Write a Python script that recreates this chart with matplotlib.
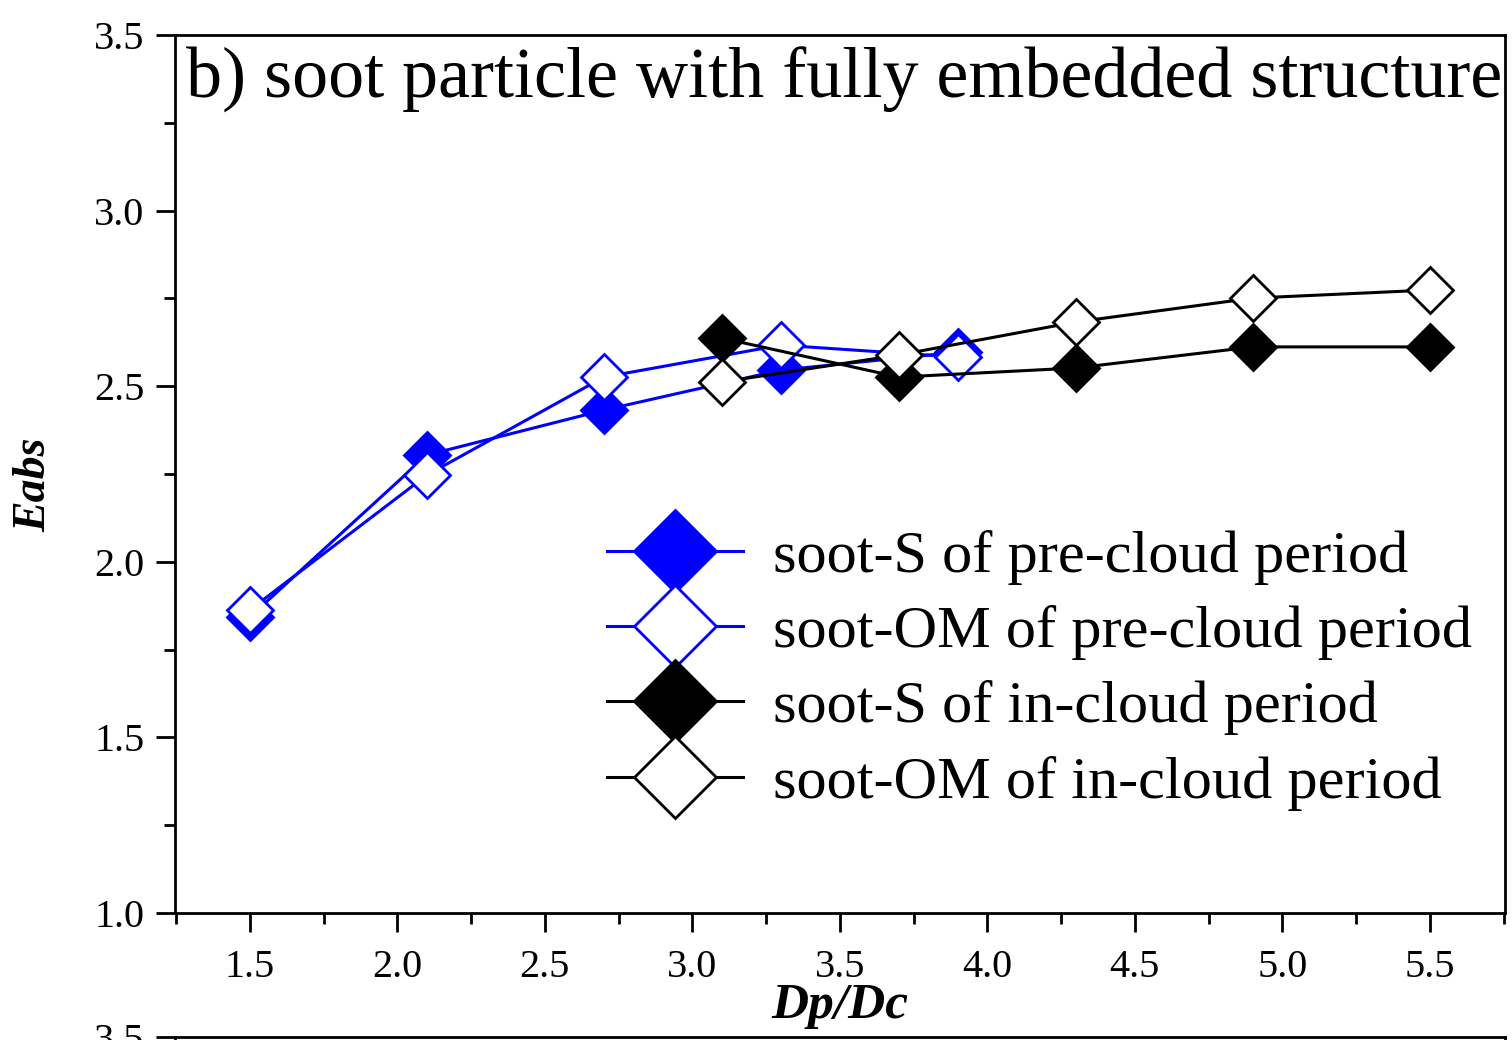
import numpy as np
import matplotlib
matplotlib.use("Agg")
import matplotlib.pyplot as plt
from matplotlib.ticker import MultipleLocator

plt.rcParams['font.family'] = ['Liberation Serif', 'DejaVu Serif']

# pre-cloud period
x_pre = [1.5, 2.1, 2.7, 3.3, 3.9]
s_pre = [1.843, 2.304, 2.432, 2.546, 2.597]
om_pre = [1.863, 2.247, 2.526, 2.617, 2.583]

# in-cloud period
x_in = [3.1, 3.7, 4.3, 4.9, 5.5]
s_in = [2.637, 2.526, 2.552, 2.612, 2.612]
om_in = [2.512, 2.589, 2.683, 2.751, 2.774]

labels = ['soot-S of pre-cloud period', 'soot-OM of pre-cloud period',
          'soot-S of in-cloud period', 'soot-OM of in-cloud period']

fig = plt.figure(figsize=(15.12, 10.4), dpi=100)
ax = fig.add_axes([0.1157, 0.1221, 0.8796, 0.8442])

ms = 23
lw = 2.2
mew = 2.0
ax.plot(x_pre, s_pre, color='blue', lw=lw, marker='D', ms=ms, mfc='blue', mec='blue', mew=mew, label=labels[0])
ax.plot(x_pre, om_pre, color='blue', lw=lw, marker='D', ms=ms, mfc='white', mec='blue', mew=mew, label=labels[1])
ax.plot(x_in, s_in, color='black', lw=lw, marker='D', ms=ms, mfc='black', mec='black', mew=mew, label=labels[2])
ax.plot(x_in, om_in, color='black', lw=lw, marker='D', ms=ms, mfc='white', mec='black', mew=mew, label=labels[3])

ax.set_xlim(1.246, 5.754)
ax.set_ylim(1.0, 3.5)
ax.xaxis.set_major_locator(MultipleLocator(0.5))
ax.xaxis.set_minor_locator(MultipleLocator(0.25))
ax.yaxis.set_major_locator(MultipleLocator(0.5))
ax.yaxis.set_minor_locator(MultipleLocator(0.25))
ax.set_xticks([1.5, 2.0, 2.5, 3.0, 3.5, 4.0, 4.5, 5.0, 5.5])
ax.tick_params(which='both', direction='out', top=False, right=False, width=2)
ax.tick_params(which='major', length=14, labelsize=29)
ax.tick_params(axis='x', which='major', pad=12)
ax.tick_params(axis='y', which='major', pad=8)
ax.tick_params(which='minor', length=8)
for sp in ax.spines.values():
    sp.set_linewidth(2)

ax.set_xlabel('Dp/Dc', fontsize=37, fontweight='bold', style='italic', labelpad=-2)
ax.set_ylabel('Eabs', fontsize=33, fontweight='bold', style='italic')
ax.yaxis.set_label_coords(-0.09, 0.4875)

ax.text(0.008, 0.986, 'b) soot particle with fully embedded structure', transform=ax.transAxes,
        fontsize=51.8, va='top', ha='left')

leg = ax.legend(loc='upper left', bbox_to_anchor=(0.302, 0.471), frameon=False, fontsize=43.5,
                markerscale=1.8, handlelength=2.25, labelspacing=0.33, handletextpad=0.5,
                borderpad=0)

# top of the next panel, cut off by the figure edge
ax2 = fig.add_axes([0.1157, -0.5, 0.8796, 0.5029])
ax2.set_xlim(1.246, 5.754)
ax2.set_ylim(1.0, 3.5)
ax2.set_yticks([3.5])
ax2.set_xticks([])
ax2.tick_params(direction='out', length=14, width=2, labelsize=29, pad=8)
for sp in ax2.spines.values():
    sp.set_linewidth(2)

fig.savefig('out.png', dpi=100)
